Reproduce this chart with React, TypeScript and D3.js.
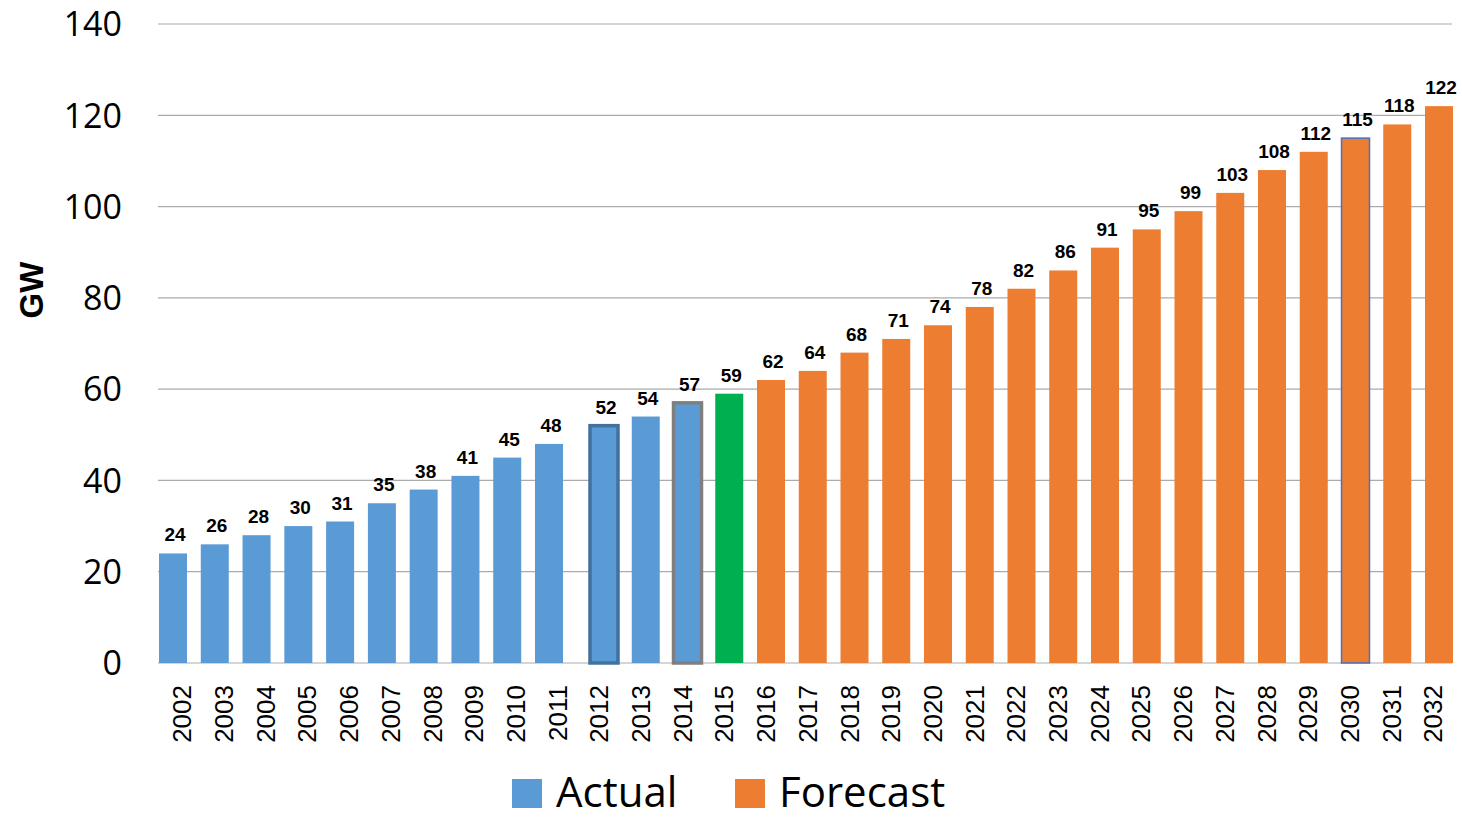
import React from 'react';
import * as d3 from 'd3';

// yearly capacity, GW
const years = d3.range(2002, 2033).map(String);
const values = [
  24, 26, 28, 30, 31, 35, 38, 41, 45, 48, 52, 54, 57, 59,
  62, 64, 68, 71, 74, 78, 82, 86, 91, 95, 99, 103, 108, 112, 115, 118, 122,
];
const yTicks = [0, 20, 40, 60, 80, 100, 120, 140];
const currentYear = '2015';
const lastActual = 2014;
const outlined: Record<string, { stroke: string; width: number }> = {
  '2012': { stroke: '#41719C', width: 3.5 },
  '2014': { stroke: '#7F7F7F', width: 3.5 },
  '2030': { stroke: '#4472C4', width: 1.5 },
};
const legendItems = [
  { label: 'Actual', color: '#5B9BD5' },
  { label: 'Forecast', color: '#ED7D31' },
];

const W = 1462;
const H = 819;
const BAR_W = 28;

export default function App() {
  // bars sit on a slightly wider gap after 2011 in the source image
  const xBar = d3.scaleLinear().domain([0, 9, 10, 30]).range([159, 535, 590, 1425]);
  const xLabel = d3.scalePoint<string>().domain(years).range([182, 1433]);
  const y = d3.scaleLinear().domain([0, 140]).range([663, 24]);

  const colorOf = (yr: string) =>
    yr === currentYear ? '#00B050' : +yr <= lastActual ? '#5B9BD5' : '#ED7D31';

  return (
    <svg width={W} height={H} style={{ position: 'absolute', left: 0, top: 0 }}>
      <rect width={W} height={H} fill="#fff" />
      {yTicks.map((t) => (
        <g key={t}>
          <line x1={158} x2={1452} y1={y(t)} y2={y(t)} stroke="#ABABAB" strokeWidth={1.2} />
          <text
            x={122}
            y={y(t)}
            dy="0.36em"
            textAnchor="end"
            fontFamily="Open Sans, sans-serif"
            fontSize={34}
            fill="#000"
          >
            {t}
          </text>
        </g>
      ))}
      <text
        transform="translate(43,290) rotate(-90)"
        textAnchor="middle"
        fontFamily="Liberation Sans, Arial, sans-serif"
        fontWeight="bold"
        fontSize={33}
      >
        GW
      </text>
      {years.map((yr, i) => {
        const v = values[i];
        const bx = xBar(i);
        const o = outlined[yr];
        const top = y(v);
        return (
          <g key={yr}>
            <rect
              x={bx}
              y={top}
              width={BAR_W}
              height={y(0) - top}
              fill={colorOf(yr)}
              stroke={o ? o.stroke : 'none'}
              strokeWidth={o ? o.width : 0}
            />
            <text
              x={bx + BAR_W / 2 + 2}
              y={top - 12}
              textAnchor="middle"
              fontFamily="Liberation Sans, Arial, sans-serif"
              fontWeight="bold"
              fontSize={19}
            >
              {v}
            </text>
            <text
              transform={`translate(${xLabel(yr)},685) rotate(-90)`}
              textAnchor="end"
              dy="0.36em"
              fontFamily="Liberation Sans, Arial, sans-serif"
              fontSize={26}
            >
              {yr}
            </text>
          </g>
        );
      })}
      {legendItems.map((item, i) => {
        const lx = i === 0 ? 512 : 735;
        return (
          <g key={item.label}>
            <rect x={lx} y={779} width={30} height={29} fill={item.color} />
            <text x={lx + 44} y={807} fontFamily="Open Sans, sans-serif" fontSize={42}>
              {item.label}
            </text>
          </g>
        );
      })}
    </svg>
  );
}
